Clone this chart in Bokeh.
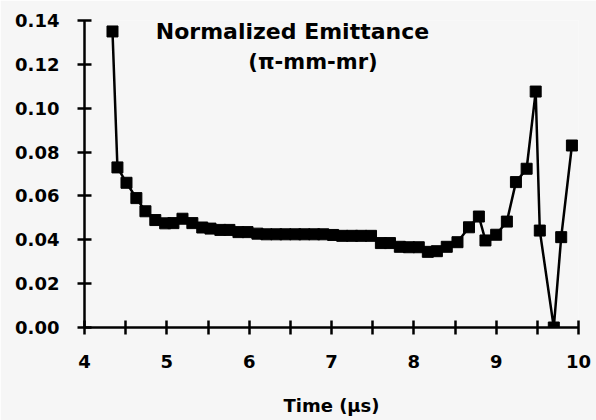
from bokeh.plotting import figure
from bokeh.models import Range1d, FixedTicker, Label
from bokeh.embed import file_html
from bokeh.resources import INLINE

# ---- data ----
time_us = [4.34, 4.40, 4.51, 4.63, 4.74, 4.86, 4.98, 5.08, 5.19, 5.31,
           5.43, 5.53, 5.65, 5.76, 5.87, 5.98, 6.10, 6.21, 6.33, 6.44,
           6.56, 6.67, 6.79, 6.90, 7.02, 7.13, 7.25, 7.36, 7.48, 7.60,
           7.71, 7.83, 7.94, 8.06, 8.17, 8.28, 8.40, 8.53, 8.67, 8.79,
           8.87, 9.00, 9.13, 9.24, 9.37, 9.48, 9.53, 9.70, 9.79, 9.92]
emittance = [0.135, 0.073, 0.066, 0.059, 0.053, 0.049, 0.0475, 0.0476, 0.0496, 0.0476,
             0.0456, 0.0451, 0.0445, 0.0445, 0.0435, 0.0435, 0.0428, 0.0425, 0.0425, 0.0425,
             0.0425, 0.0425, 0.0425, 0.0425, 0.0422, 0.0418, 0.0418, 0.0418, 0.0418, 0.0385,
             0.0385, 0.0368, 0.0366, 0.0366, 0.0345, 0.0348, 0.0368, 0.0389, 0.0457, 0.0506,
             0.0397, 0.0423, 0.0483, 0.0663, 0.0724, 0.1076, 0.0442, 0.0, 0.0412, 0.0830]

x_ticks = [4, 4.5, 5, 5.5, 6, 6.5, 7, 7.5, 8, 8.5, 9, 9.5, 10]
x_tick_labels = ["4", "", "5", "", "6", "", "7", "", "8", "", "9", "", "10"]
y_ticks = [0.0, 0.02, 0.04, 0.06, 0.08, 0.10, 0.12, 0.14]
y_tick_labels = ["0.00", "0.02", "0.04", "0.06", "0.08", "0.10", "0.12", "0.14"]

title_line1 = "Normalized Emittance"
title_line2 = "(\u03c0-mm-mr)"
x_label = "Time (\u00b5s)"

FONT = "DejaVu Sans"
BG = "#f6f6f6"

p = figure(frame_width=494, frame_height=307,
           min_border_left=84, min_border_right=18,
           min_border_top=20, min_border_bottom=93,
           x_range=Range1d(4, 10), y_range=Range1d(0, 0.14),
           output_backend="svg", toolbar_location=None)

p.background_fill_color = BG
p.border_fill_color = BG
p.outline_line_color = None
p.xgrid.visible = False
p.ygrid.visible = False

for ax in (p.xaxis[0], p.yaxis[0]):
    ax.axis_line_width = 2.5
    ax.axis_line_color = "black"
    ax.major_tick_line_width = 2.5
    ax.major_tick_line_color = "black"
    ax.major_tick_in = 7
    ax.major_tick_out = 7
    ax.minor_tick_line_color = None
    ax.major_label_text_font = FONT
    ax.major_label_text_font_style = "bold"
    ax.major_label_text_font_size = "18px"
    ax.major_label_text_color = "black"

p.xaxis.major_label_standoff = 20
p.yaxis.major_label_standoff = 18

p.xaxis.ticker = FixedTicker(ticks=x_ticks)
p.xaxis.major_label_overrides = {t: l for t, l in zip(x_ticks, x_tick_labels)}
p.yaxis.ticker = FixedTicker(ticks=y_ticks)
p.yaxis.major_label_overrides = {t: l for t, l in zip(y_ticks, y_tick_labels)}

p.xaxis.axis_label = x_label
p.xaxis.axis_label_text_font = FONT
p.xaxis.axis_label_text_font_style = "bold"
p.xaxis.axis_label_text_font_size = "18px"
p.xaxis.axis_label_text_color = "black"
p.xaxis.axis_label_standoff = 24

p.line(time_us, emittance, line_color="black", line_width=2.5)
p.scatter(time_us, emittance, marker="square", size=11,
          fill_color="black", line_color="black")

p.add_layout(Label(x=6.526, y=0.1350, text=title_line1, text_align="center",
                   text_baseline="alphabetic", text_font=FONT,
                   text_font_style="bold", text_font_size="22px",
                   text_color="black"))
p.add_layout(Label(x=6.775, y=0.1213, text=title_line2, text_align="center",
                   text_baseline="alphabetic", text_font=FONT,
                   text_font_style="bold", text_font_size="21px",
                   text_color="black"))

open("out.html", "w").write(file_html(p, INLINE))
